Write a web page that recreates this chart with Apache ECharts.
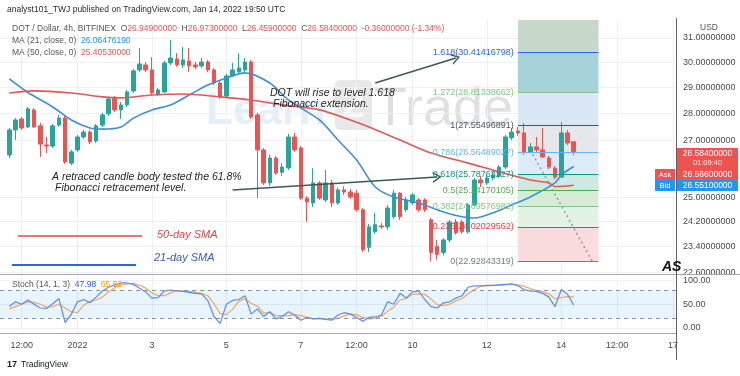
<!DOCTYPE html>
<html>
<head>
<meta charset="utf-8">
<script src="https://cdn.jsdelivr.net/npm/echarts@6/dist/echarts.min.js"></script>
<style>
  html, body { margin: 0; padding: 0; background: #fff; }
  #chart { width: 740px; height: 376px; }
</style>
</head>
<body>
<div id="chart"></div>
<script>
// DOT/USD 4h candles, bar 1 = 2021-12-30 04:00
const openPrice = [26.47,27.38,27.79,27.49,28.13,27.53,26.83,26.79,27.56,27.82,26.18,26.65,27.12,27.30,26.97,27.56,27.98,28.59,28.13,28.32,28.86,29.69,29.89,29.69,28.74,28.82,29.97,30.13,29.89,30.05,29.89,29.85,30.01,29.69,29.17,28.66,29.45,29.61,29.69,30.01,27.94,26.65,25.49,26.36,25.86,26.01,27.12,26.72,24.97,24.81,25.49,24.91,25.49,24.81,25.25,25.18,25.14,24.58,23.37,23.86,24.05,24.02,24.35,25.14,24.58,24.81,24.91,24.91,24.25,23.39,23.20,23.60,24.18,24.18,23.86,24.74,25.59,25.49,25.66,25.73,26.04,27.09,27.34,27.27,26.58,26.76,26.65,26.36,26.00,25.69,27.27,26.949]
const highPrice = [27.45,27.82,27.86,28.24,28.20,27.64,27.12,27.60,27.94,27.90,26.65,27.19,27.38,27.38,27.60,28.02,28.63,28.66,28.43,28.90,29.73,30.58,30.01,30.21,28.97,30.05,30.92,30.37,30.62,30.58,30.01,30.17,30.09,29.77,29.25,29.53,29.97,30.37,30.17,30.09,28.02,26.72,26.47,26.43,26.18,27.23,27.27,26.79,25.04,26.00,25.55,25.94,25.59,25.32,25.38,25.28,25.25,24.64,24.12,24.48,24.15,24.74,25.25,25.18,25.01,25.14,24.97,24.97,24.31,23.60,23.66,24.25,24.28,24.25,24.81,25.66,25.73,25.76,25.87,26.11,27.19,27.45,27.49,27.64,26.90,27.12,27.45,26.43,26.07,27.67,27.38,26.973]
const lowPrice = [26.36,27.01,27.38,27.45,27.45,26.40,26.54,26.72,27.49,26.15,26.11,26.58,27.05,26.86,26.90,27.49,27.90,28.05,27.79,28.24,28.78,29.61,29.61,28.70,28.66,28.78,29.89,29.81,29.77,29.61,29.73,29.77,29.61,29.09,28.55,28.59,29.41,29.57,29.61,27.79,24.97,25.42,25.38,25.76,25.73,25.94,26.58,24.91,24.18,24.67,24.91,24.84,24.67,24.74,25.08,24.94,24.51,23.22,23.22,23.80,23.96,23.93,24.28,24.25,24.51,24.74,24.51,24.51,22.93,22.98,23.11,23.53,23.77,23.80,23.80,24.71,25.35,25.42,25.59,25.66,25.97,27.01,27.16,26.47,26.54,26.58,26.36,25.97,25.62,25.66,26.83,26.459]
const closePrice = [27.38,27.75,27.45,28.17,27.49,26.86,26.79,27.53,27.82,26.22,26.58,27.12,27.30,26.94,27.53,27.94,28.55,28.13,28.32,28.82,29.65,29.93,29.69,28.78,28.90,29.97,30.17,29.89,30.09,29.85,29.81,30.01,29.69,29.17,28.63,29.45,29.69,29.77,30.01,27.86,26.65,25.49,26.36,25.83,26.04,27.12,26.65,24.97,24.84,25.49,24.97,25.49,24.81,25.25,25.18,25.01,24.58,23.29,24.02,24.09,24.02,24.64,25.14,24.35,24.91,25.08,24.58,24.58,23.20,23.14,23.60,24.18,23.83,23.86,24.74,25.59,25.49,25.66,25.76,26.04,27.12,27.30,27.27,26.58,26.76,26.65,26.40,26.04,25.69,27.27,26.90,26.584]

// moving averages: [bar, price]
const ma21Pts = [[1,29.33],[4,28.80],[8,28.24],[11,27.75],[14,27.45],[16,27.41],[19,27.49],[21,27.82],[24,28.13],[27,28.32],[30,28.70],[33,29.09],[36,29.37],[39,29.57],[43,29.17],[46,28.51],[51,27.75],[54,27.01],[57,26.29],[60,25.35],[63,25.01],[67,24.81],[71,24.51],[74,24.35],[76,24.31],[79,24.48],[82,24.74],[85,25.01],[89,25.49],[90,25.76],[92,26.06]]
const ma50Pts = [[1,28.78],[5,28.86],[11,28.78],[16,28.63],[19,28.59],[24,28.70],[29,28.74],[35,28.63],[40,28.51],[45,28.32],[51,28.13],[56,27.75],[59,27.49],[64,27.01],[69,26.54],[75,26.18],[80,25.87],[85,25.59],[88,25.49],[89,25.36],[92,25.41]]

// stochastic (14,1,3)
const stochK = [45,55,50,59,50,42,41,51,62,11,29,55,60,53,65,78,86,91,95,95,92,84,76,63,64,78,80,78,77,75,73,72,58,24,9,50,58,60,68,29,40,24,34,19,24,34,27,16,22,19,20,18,16,27,32,29,22,14,22,23,27,55,50,73,63,76,78,60,45,42,53,55,63,68,86,89,89,90,90,91,92,93,89,81,78,77,73,65,45,81,71,47.98]
const stochD = [40,45,50,55,54,50,44,45,50,42,34,32,48,56,59,65,76,85,91,93,94,90,84,74,68,68,74,79,78,77,75,73,68,51,30,28,39,56,62,52,46,31,33,26,26,26,28,26,22,19,20,19,18,20,25,29,28,22,19,20,24,35,44,59,62,71,72,71,61,49,47,50,57,62,72,81,88,89,90,90,91,92,91,88,83,79,76,72,61,64,66,65.52]

// fibonacci levels
const fibRatios = ['0', '0.236', '0.382', '0.5', '0.618', '0.786', '1', '1.272', '1.618']
const fibPrices = [22.92843319, 24.02029562, 24.69576982, 25.24170105, 25.78763227, 26.56489027, 27.55496891, 28.81338662, 30.41416798]
const fibStartBar = 83
const fibEndBar = 96
const projectionPath = [[85, 26.65], [95, 22.93]]

// axes
const priceTicks = [22.6, 23.4, 24.2, 25, 27, 28, 29, 30, 31]
const priceMin = 22.54
const priceMax = 31.76
const stochTicks = [0, 50, 100]
const xTickSlots = ['2021-12-30 12:00', '2022-01-01 00:00', '2022-01-03 00:00', '2022-01-05 00:00', '2022-01-07 00:00', '2022-01-08 12:00', '2022-01-10 00:00', '2022-01-12 00:00', '2022-01-14 00:00', '2022-01-15 12:00', '2022-01-17 00:00']
const xTickLabels = ['12:00', '2022', '3', '5', '7', '12:00', '10', '12', '14', '12:00', '17']

// 4h slots from 2021-12-30 00:00
const categories = []
for (let i = 0; i < 109; i++) {
  const d = new Date(Date.UTC(2021, 11, 30) + i * 4 * 3600e3)
  categories.push(d.toISOString().slice(0, 16).replace('T', ' '))
}

const UP = '#26a69a'
const DOWN = '#ef5350'
const FONT = 'Liberation Sans'
const ln = Math.log

const candleData = openPrice.map((o, i) => [i + 1, ln(o), ln(closePrice[i]), ln(lowPrice[i]), ln(highPrice[i])])

const fibLineColors = ['#787b86', '#f23645', '#81c784', '#4caf50', '#089981', '#64b5f6', '#50535e', '#81c784', '#2962ff']
const fibBandColors = ['#fadcdc', '#e4f2e4', '#d6ecd7', '#cfe9e2', '#dcebf8', '#e6e7ea', '#d9e7f7', '#a6d3da', '#c7d8cb']

const fibAreas = []
fibPrices.forEach((p, i) => {
  const upper = i < fibPrices.length - 1 ? fibPrices[i + 1] : priceMax
  fibAreas.push([
    { xAxis: fibStartBar, yAxis: ln(p), itemStyle: { color: fibBandColors[i] } },
    { xAxis: fibEndBar, yAxis: ln(upper) }
  ])
})

const fibLines = fibPrices.map((p, i) => [
  {
    name: `${fibRatios[i]}(${p.toFixed(8)})`,
    coord: [fibStartBar, ln(p)],
    lineStyle: { color: fibLineColors[i], width: 1, type: 'solid' },
    label: { color: fibLineColors[i] }
  },
  { coord: [fibEndBar, ln(p)] }
])

const chevron = 'path://M0,10 L5,0 L10,10 L8.6,10 L5,3 L1.4,10 Z'
const arrowLines = [
  [
    { coord: [60, ln(29.17)], symbol: 'none', lineStyle: { color: '#3b5a55', width: 1.5, type: 'solid' }, label: { show: false } },
    { coord: [73, ln(30.17)], symbol: chevron, symbolSize: [11, 9] }
  ],
  [
    { coord: [37, ln(25.25)], symbol: 'none', lineStyle: { color: '#3b5a55', width: 1.5, type: 'solid' }, label: { show: false } },
    { coord: [70, ln(25.69)], symbol: chevron, symbolSize: [11, 9] }
  ]
]

const isTick = (idx, val) => xTickSlots.indexOf(val) >= 0
const gridLine = { color: '#eef0f4', width: 1 }

function txt(x, y, text, fill, font, extra) {
  return Object.assign({
    type: 'text', x, y, z: 50, silent: true,
    style: { text, fill, font, verticalAlign: 'middle' }
  }, extra || {})
}
function ctxt(x, y, text, fill, font) {
  return { type: 'text', x, y, z: 50, silent: true, style: { text, fill, font, align: 'center', verticalAlign: 'middle' } }
}
function rich(x, y, text, richDef, font) {
  return { type: 'text', x, y, z: 50, silent: true, style: { text, rich: richDef, font, fill: '#555', verticalAlign: 'middle' } }
}
function hline(x1, x2, y, stroke, width) {
  return { type: 'line', z: 40, silent: true, shape: { x1, y1: y, x2, y2: y }, style: { stroke, lineWidth: width || 1 } }
}
function box(x, y, w, h, fill) {
  return { type: 'rect', z: 45, silent: true, shape: { x, y, width: w, height: h }, style: { fill } }
}

const small = `8.5px "${FONT}"`
const tiny = `7.5px "${FONT}"`
const noteFont = `italic 10.5px "${FONT}"`

const graphics = [
  // watermark
  txt(206, 112, 'Learn', 'rgba(150,195,230,0.26)', `bold 44px "${FONT}"`, { z: 0 }),
  { type: 'rect', z: 0, silent: true, shape: { x: 335, y: 80, width: 37, height: 50, r: 5 }, style: { fill: 'rgba(150,150,150,0.22)' } },
  txt(342, 106, '2', 'rgba(255,255,255,0.8)', `bold 40px "${FONT}"`, { z: 0 }),
  txt(374, 110, 'Trade', 'rgba(140,140,140,0.27)', `54px "${FONT}"`, { z: 0 }),

  // header
  txt(7, 10, 'analyst101_TWJ published on TradingView.com, Jan 14, 2022 19:50 UTC', '#2a2a2a', small),
  rich(12, 29, '{g|DOT / Dollar, 4h, BITFINEX  O}{r|26.94900000}{g|  H}{r|26.97300000}{g|  L}{r|26.45900000}{g|  C}{r|26.58400000}{r|  -0.36000000 (-1.34%)}',
    { g: { fill: '#555' }, r: { fill: '#ef5350' } }, small),
  rich(12, 41, '{g|MA (21, close, 0)}  {b|26.06476190}', { g: { fill: '#555' }, b: { fill: '#2196f3' } }, small),
  rich(12, 53, '{g|MA (50, close, 0)}  {r|25.40530000}', { g: { fill: '#555' }, r: { fill: '#ef5350' } }, small),
  rich(12, 285, '{g|Stoch (14, 1, 3)}  {b|47.98}  {o|65.52}', { g: { fill: '#555' }, b: { fill: '#2962ff' }, o: { fill: '#ff9800' } }, small),
  txt(700, 28, 'USD', '#555', small),

  // notes
  txt(270, 93, 'DOT will rise to level 1.618', '#1e1e1e', noteFont),
  txt(273, 104, 'Fibonacci extension.', '#1e1e1e', noteFont),
  txt(52, 177, 'A retraced candle body tested the 61.8%', '#1e1e1e', noteFont),
  txt(55, 188, 'Fibonacci retracement level.', '#1e1e1e', noteFont),
  hline(18, 142, 236, '#e04848', 1.5),
  txt(157, 235, '50-day SMA', '#e04848', `italic 11px "${FONT}"`),
  hline(12, 136, 265, '#2f66d6', 2),
  txt(154, 258, '21-day SMA', '#2f5fcf', `italic 11px "${FONT}"`),
  txt(662, 267, 'AS', '#111', `bold italic 14px "${FONT}"`),

  // pane frame
  hline(0, 740, 274.5, '#a3a6af', 1),
  hline(0, 676, 333.5, '#a3a6af', 1),
  { type: 'line', z: 40, silent: true, shape: { x1: 676.5, y1: 18, x2: 676.5, y2: 360 }, style: { stroke: '#5d606b', lineWidth: 1 } },

  // price tags
  box(677, 148, 61, 32, '#ef5350'),
  ctxt(707.5, 154, '26.58400000', '#fff', small),
  ctxt(707.5, 163, '01:09:40', '#ffe9e9', tiny),
  box(655, 169, 20, 11, '#ef5350'),
  ctxt(665, 174.5, 'Ask', '#fff', tiny),
  ctxt(707.5, 174.5, '26.56600000', '#fff', small),
  box(655, 180, 20, 11, '#2196f3'),
  box(677, 180, 61, 11, '#2196f3'),
  ctxt(665, 185.5, 'Bid', '#fff', tiny),
  ctxt(707.5, 185.5, '26.55100000', '#fff', small),

  // footer
  txt(7, 365, '17', '#131722', `bold 9px "${FONT}"`),
  txt(21, 365, 'TradingView', '#131722', small)
]

const chart = echarts.init(document.getElementById('chart'))

chart.setOption({
  animation: false,
  backgroundColor: '#fff',
  textStyle: { fontFamily: FONT },
  grid: [
    { left: -2, right: 64, top: 20, height: 254 },
    { left: -2, right: 64, top: 274, height: 59 }
  ],
  xAxis: [
    {
      type: 'category', gridIndex: 0, data: categories,
      axisLine: { show: false }, axisTick: { show: false }, axisLabel: { show: false },
      splitLine: { show: true, interval: isTick, alignWithLabel: true, lineStyle: gridLine }
    },
    {
      type: 'category', gridIndex: 1, data: categories,
      axisLine: { show: false }, axisTick: { show: false },
      axisLabel: {
        interval: isTick, color: '#4a4a4a', fontSize: 9, margin: 8,
        formatter: v => xTickLabels[xTickSlots.indexOf(v)]
      },
      splitLine: { show: true, interval: isTick, alignWithLabel: true, lineStyle: gridLine }
    }
  ],
  yAxis: [
    {
      type: 'value', gridIndex: 0, position: 'right',
      min: ln(priceMin), max: ln(priceMax),
      axisLine: { show: false },
      axisTick: { show: false, customValues: priceTicks.map(ln) },
      axisLabel: {
        customValues: priceTicks.map(ln), color: '#4a4a4a', fontSize: 9, margin: 7,
        formatter: v => Math.exp(v).toFixed(8)
      },
      splitLine: { show: true, lineStyle: gridLine }
    },
    {
      type: 'value', gridIndex: 1, position: 'right', min: -11, max: 114,
      axisLine: { show: false },
      axisTick: { show: false, customValues: stochTicks },
      axisLabel: { customValues: stochTicks, color: '#4a4a4a', fontSize: 9, margin: 7, formatter: v => v.toFixed(2) },
      splitLine: { show: true, lineStyle: gridLine }
    }
  ],
  series: [
    {
      name: 'fib', type: 'line', xAxisIndex: 0, yAxisIndex: 0, z: 2,
      data: projectionPath.map(([k, p]) => [k, ln(p)]),
      showSymbol: false,
      lineStyle: { color: '#9b9b9b', width: 1.5, type: [2, 3] },
      markArea: { silent: true, data: fibAreas },
      markLine: {
        silent: true, symbol: 'none', animation: false,
        label: { show: true, position: 'start', formatter: '{b}', fontSize: 9, distance: 4, padding: [0, 0, 9, 0] },
        data: fibLines.concat(arrowLines)
      }
    },
    {
      name: 'DOT', type: 'candlestick', xAxisIndex: 0, yAxisIndex: 0, z: 3,
      data: candleData,
      encode: { x: 0, y: [1, 2, 3, 4] },
      barWidth: 4,
      itemStyle: { color: UP, color0: DOWN, borderColor: UP, borderColor0: DOWN, borderWidth: 1 }
    },
    {
      name: 'MA21', type: 'line', xAxisIndex: 0, yAxisIndex: 0, z: 4,
      data: ma21Pts.map(([k, p]) => [k, ln(p)]),
      smooth: 0.3, showSymbol: false,
      lineStyle: { color: '#3d8fdc', width: 1.6 }
    },
    {
      name: 'MA50', type: 'line', xAxisIndex: 0, yAxisIndex: 0, z: 4,
      data: ma50Pts.map(([k, p]) => [k, ln(p)]),
      smooth: 0.3, showSymbol: false,
      lineStyle: { color: '#dc5a5a', width: 1.6 }
    },
    {
      name: '%K', type: 'line', xAxisIndex: 1, yAxisIndex: 1, z: 4,
      data: stochK.map((v, i) => [i + 1, v]),
      showSymbol: false,
      lineStyle: { color: '#5b8def', width: 1.2 },
      markArea: {
        silent: true,
        itemStyle: { color: 'rgba(33,150,243,0.10)' },
        data: [[{ yAxis: 20 }, { yAxis: 80 }]]
      },
      markLine: {
        silent: true, symbol: 'none', label: { show: false },
        lineStyle: { color: '#8f929b', type: [4, 4], width: 1 },
        data: [{ yAxis: 80 }, { yAxis: 20 }]
      }
    },
    {
      name: '%D', type: 'line', xAxisIndex: 1, yAxisIndex: 1, z: 3,
      data: stochD.map((v, i) => [i + 1, v]),
      showSymbol: false,
      lineStyle: { color: '#f5a55e', width: 1.2 }
    }
  ],
  graphic: { elements: graphics }
})
</script>
</body>
</html>
